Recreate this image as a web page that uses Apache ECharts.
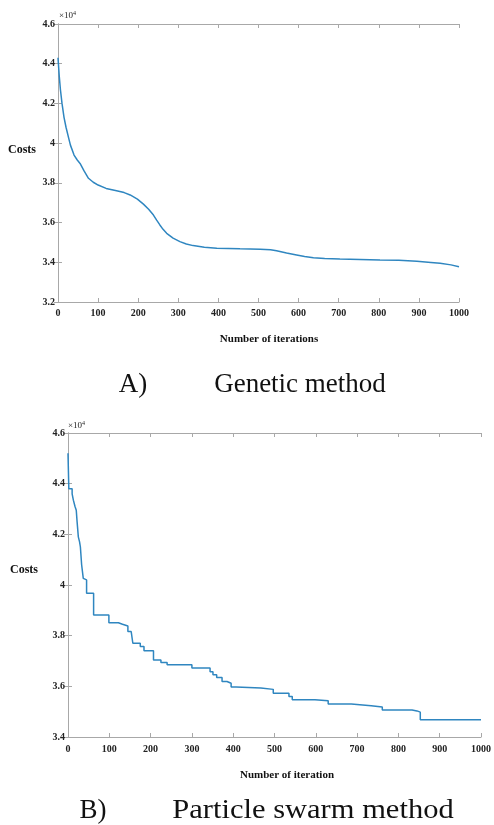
<!DOCTYPE html>
<html>
<head>
<meta charset="utf-8">
<script src="https://cdn.jsdelivr.net/npm/echarts@6/dist/echarts.min.js"></script>
<style>
  html, body { margin: 0; padding: 0; background: #fff; }
  #chart { width: 494px; height: 825px; }
</style>
</head>
<body>
<div id="chart"></div>
<script>
// genetic method, cost in units of 1e4
const gaIter = [0, 3, 6, 10, 15, 20, 26, 31, 40, 48, 55, 65, 76, 88, 100, 120, 146, 165, 180, 198, 213, 226, 238, 246, 254, 262, 271, 287, 304, 320, 337, 365, 396, 454, 504, 530, 545, 570, 595, 615, 637, 665, 703, 803, 850, 895, 930, 953, 980, 1000]
const gaCost = [4.43, 4.34, 4.27, 4.2, 4.13, 4.08, 4.03, 3.99, 3.94, 3.915, 3.898, 3.86, 3.823, 3.803, 3.789, 3.772, 3.76, 3.751, 3.739, 3.718, 3.693, 3.667, 3.638, 3.612, 3.588, 3.566, 3.546, 3.522, 3.504, 3.492, 3.484, 3.476, 3.471, 3.468, 3.466, 3.463, 3.458, 3.447, 3.437, 3.429, 3.423, 3.419, 3.417, 3.412, 3.41, 3.405, 3.399, 3.395, 3.387, 3.378]

// particle swarm, best cost after each improvement
const psoIter = [0, 2, 10, 13, 17, 20, 22, 25, 28, 30, 33, 37, 41, 45, 62, 99, 122, 132, 145, 153, 157, 175, 184, 207, 225, 240, 300, 344, 351, 360, 373, 385, 395, 407, 467, 497, 535, 543, 598, 630, 686, 734, 761, 833, 845, 853, 1000]
const psoCost = [4.52, 4.38, 4.36, 4.335, 4.31, 4.295, 4.25, 4.19, 4.17, 4.15, 4.08, 4.026, 4.02, 3.967, 3.882, 3.851, 3.845, 3.838, 3.816, 3.81, 3.77, 3.757, 3.74, 3.704, 3.694, 3.685, 3.672, 3.658, 3.646, 3.635, 3.619, 3.612, 3.597, 3.593, 3.588, 3.573, 3.56, 3.547, 3.543, 3.53, 3.523, 3.518, 3.507, 3.503, 3.498, 3.468, 3.468]

const gaY = [3.2, 4.6]
const psoY = [3.4, 4.6]

const lineColor = '#2f86c0'
const boxColor = '#a8a8a8'
const labelFont = {
  color: '#222',
  fontFamily: 'Liberation Serif',
  fontWeight: 'bold',
  fontSize: 10
}

function xAxes(gi, labelMargin) {
  return [{
    type: 'value', gridIndex: gi, min: 0, max: 1000, interval: 100,
    axisLine: { lineStyle: { color: boxColor } },
    axisTick: { inside: true, length: 4, lineStyle: { color: boxColor } },
    axisLabel: Object.assign({ margin: labelMargin, formatter: v => String(v) }, labelFont),
    splitLine: { show: false }
  }, {
    type: 'value', gridIndex: gi, position: 'top', min: 0, max: 1000, interval: 100,
    axisLine: { lineStyle: { color: boxColor } },
    axisTick: { inside: true, length: 4, lineStyle: { color: boxColor } },
    axisLabel: { show: false },
    splitLine: { show: false }
  }]
}

function yAxes(gi, range) {
  return [{
    type: 'value', gridIndex: gi, min: range[0], max: range[1], interval: 0.2,
    axisLine: { show: true, lineStyle: { color: boxColor } },
    axisTick: { show: true, inside: true, length: 4, lineStyle: { color: boxColor } },
    axisLabel: Object.assign({ margin: 3 }, labelFont),
    splitLine: { show: false }
  }, {
    type: 'value', gridIndex: gi, position: 'right', min: range[0], max: range[1], interval: 0.2,
    axisLine: { show: true, lineStyle: { color: boxColor } },
    axisTick: { show: true, inside: true, length: 4, lineStyle: { color: boxColor } },
    axisLabel: { show: false },
    splitLine: { show: false }
  }]
}

function txt(x, y, text, size, bold, sx) {
  return {
    type: 'text', x: x, y: y, scaleX: sx || 1,
    style: {
      text: text,
      fill: '#111',
      font: (bold ? 'bold ' : '') + size + 'px "Liberation Serif"',
      align: 'center',
      verticalAlign: 'middle'
    }
  }
}

function sci(x, y) {
  return {
    type: 'text', x: x, y: y,
    style: {
      text: '×10{s|4}',
      fill: '#222',
      font: '9px "Liberation Serif"',
      align: 'left',
      verticalAlign: 'middle',
      rich: { s: { fontSize: 6, verticalAlign: 'top', padding: [0, 0, 6, 0], fontFamily: 'Liberation Serif' } }
    }
  }
}

let option = {
  animation: false,
  backgroundColor: '#fff',
  grid: [
    { left: 58, top: 24, right: 35, bottom: 523 },
    { left: 68, top: 433, right: 7, bottom: 88 }
  ],
  xAxis: xAxes(0, 6).concat(xAxes(1, 7)),
  yAxis: yAxes(0, gaY).concat(yAxes(1, psoY)),
  series: [{
    name: 'Genetic',
    type: 'line',
    xAxisIndex: 0, yAxisIndex: 0,
    data: gaIter.map((it, i) => [it, gaCost[i]]),
    showSymbol: false,
    lineStyle: { color: lineColor, width: 1.5 }
  }, {
    name: 'Particle swarm',
    type: 'line',
    xAxisIndex: 2, yAxisIndex: 2,
    data: psoIter.map((it, i) => [it, psoCost[i]]),
    step: 'end',
    showSymbol: false,
    lineStyle: { color: lineColor, width: 1.5 }
  }],
  graphic: [
    sci(59, 16),
    txt(22, 150, 'Costs', 12, true),
    txt(269, 339, 'Number of iterations', 11, true),
    txt(133, 385, 'A)', 27, false),
    txt(300, 385, 'Genetic method', 27, false),
    sci(68, 426),
    txt(24, 570, 'Costs', 12, true),
    txt(287, 775, 'Number of iteration', 11, true),
    txt(93, 811, 'B)', 27, false),
    txt(313, 811, 'Particle swarm method', 27, false, 1.13)
  ]
}

let dom = echarts.init(document.getElementById('chart'))
dom.setOption(option)
</script>
</body>
</html>
